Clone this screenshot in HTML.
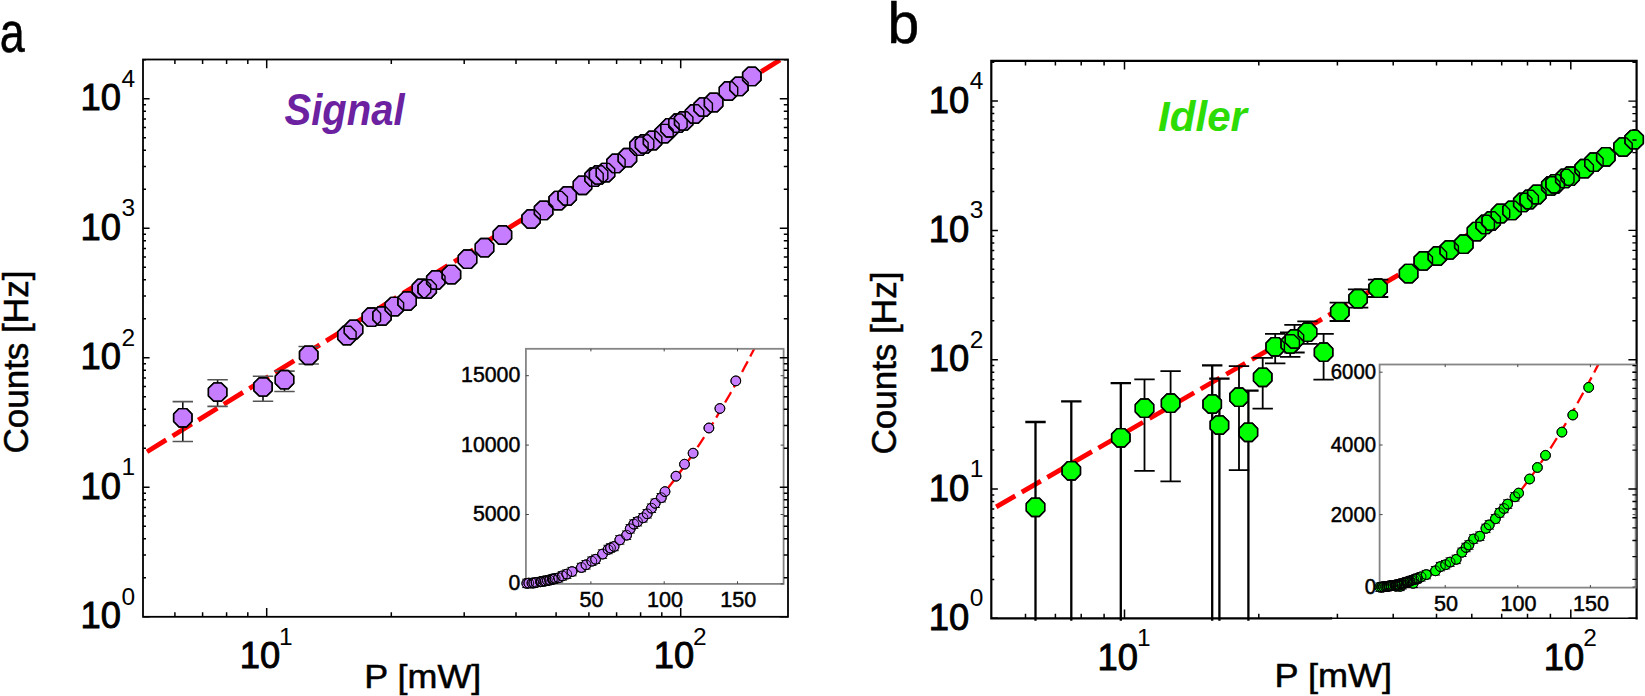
<!DOCTYPE html>
<html><head><meta charset="utf-8"><title>Signal and Idler counts</title>
<style>
html,body{margin:0;padding:0;background:#fff;}
body{width:1645px;height:696px;overflow:hidden;}
svg{display:block;}
svg text{font-family:"Liberation Sans", Arial, sans-serif;fill:#000;stroke:#000;stroke-width:0.5px;}
svg text.ns{stroke:none;}
</style></head><body>
<svg width="1645" height="696" viewBox="0 0 1645 696">
<rect width="1645" height="696" fill="#fff"/>
<defs>
<clipPath id="clipA"><rect x="143.0" y="59.5" width="645.0" height="557.3"/></clipPath>
<clipPath id="clipB"><rect x="991.3" y="60.8" width="645.3" height="557.5"/></clipPath>
</defs>

<text x="-0.3" y="52.3" font-size="56.5" textLength="25" lengthAdjust="spacingAndGlyphs">a</text>
<text x="887.6" y="42.8" font-size="57">b</text>
<g id="plotA">
<line x1="147" y1="451.8" x2="780" y2="60" stroke="#ff0000" stroke-width="4.8" stroke-dasharray="22.6 7.5" clip-path="url(#clipA)"/>
<rect x="143.0" y="59.5" width="645.0" height="557.3" fill="none" stroke="#000" stroke-width="1.8"/>
<path d="M174.9 616.8v-4.6M174.9 59.5v4.6M202.6 616.8v-4.6M202.6 59.5v4.6M226.6 616.8v-4.6M226.6 59.5v4.6M247.8 616.8v-4.6M247.8 59.5v4.6M266.7 616.8v-8.7M266.7 59.5v8.7M391.3 616.8v-4.6M391.3 59.5v4.6M464.2 616.8v-4.6M464.2 59.5v4.6M516.0 616.8v-4.6M516.0 59.5v4.6M556.1 616.8v-4.6M556.1 59.5v4.6M588.9 616.8v-4.6M588.9 59.5v4.6M616.6 616.8v-4.6M616.6 59.5v4.6M640.6 616.8v-4.6M640.6 59.5v4.6M661.8 616.8v-4.6M661.8 59.5v4.6M680.7 616.8v-8.7M680.7 59.5v8.7M143.0 616.8h6.6M143.0 577.8h3.0M143.0 555.0h3.0M143.0 538.8h3.0M143.0 526.3h3.0M143.0 516.0h3.0M143.0 507.4h3.0M143.0 499.8h3.0M143.0 493.2h3.0M143.0 487.3h6.6M143.0 448.3h3.0M143.0 425.5h3.0M143.0 409.3h3.0M143.0 396.8h3.0M143.0 386.5h3.0M143.0 377.9h3.0M143.0 370.3h3.0M143.0 363.7h3.0M143.0 357.8h6.6M143.0 318.8h3.0M143.0 296.0h3.0M143.0 279.8h3.0M143.0 267.3h3.0M143.0 257.0h3.0M143.0 248.4h3.0M143.0 240.8h3.0M143.0 234.2h3.0M143.0 228.3h6.6M143.0 189.3h3.0M143.0 166.5h3.0M143.0 150.3h3.0M143.0 137.8h3.0M143.0 127.5h3.0M143.0 118.9h3.0M143.0 111.3h3.0M143.0 104.7h3.0M143.0 98.8h6.6M143.0 59.8h3.0" stroke="#000" stroke-width="1.5" fill="none"/>
<path d="M182.8 401.6V441.5M217.6 379.7V406.4M263.0 376.3V401.3M284.5 371.1V391.5M308.7 346.5V364.0" stroke="#111" stroke-width="1.6" fill="none"/>
<path d="M172.6 401.6h20.4M172.6 441.5h20.4M207.4 379.7h20.4M207.4 406.4h20.4M252.8 376.3h20.4M252.8 401.3h20.4M274.3 371.1h20.4M274.3 391.5h20.4M298.5 346.5h20.4M298.5 364.0h20.4" stroke="#555" stroke-width="1.6" fill="none"/>
<polygon points="192.0,421.6 186.6,427.0 179.0,427.0 173.6,421.6 173.6,414.0 179.0,408.6 186.6,408.6 192.0,414.0" fill="#c77dff" stroke="#000" stroke-width="1.4" stroke-linejoin="round"/>
<polygon points="226.8,395.9 221.4,401.3 213.8,401.3 208.4,395.9 208.4,388.3 213.8,382.9 221.4,382.9 226.8,388.3" fill="#c77dff" stroke="#000" stroke-width="1.4" stroke-linejoin="round"/>
<polygon points="272.2,390.7 266.8,396.1 259.2,396.1 253.8,390.7 253.8,383.1 259.2,377.7 266.8,377.7 272.2,383.1" fill="#c77dff" stroke="#000" stroke-width="1.4" stroke-linejoin="round"/>
<polygon points="293.7,383.5 288.3,388.9 280.7,388.9 275.3,383.5 275.3,375.9 280.7,370.5 288.3,370.5 293.7,375.9" fill="#c77dff" stroke="#000" stroke-width="1.4" stroke-linejoin="round"/>
<polygon points="317.9,359.1 312.5,364.5 304.9,364.5 299.5,359.1 299.5,351.5 304.9,346.1 312.5,346.1 317.9,351.5" fill="#c77dff" stroke="#000" stroke-width="1.4" stroke-linejoin="round"/>
<polygon points="356.1,339.3 350.7,344.7 343.1,344.7 337.7,339.3 337.7,331.7 343.1,326.3 350.7,326.3 356.1,331.7" fill="#c77dff" stroke="#000" stroke-width="1.4" stroke-linejoin="round"/>
<polygon points="362.7,333.3 357.3,338.7 349.7,338.7 344.3,333.3 344.3,325.7 349.7,320.3 357.3,320.3 362.7,325.7" fill="#c77dff" stroke="#000" stroke-width="1.4" stroke-linejoin="round"/>
<polygon points="380.6,321.0 375.2,326.4 367.6,326.4 362.2,321.0 362.2,313.4 367.6,308.0 375.2,308.0 380.6,313.4" fill="#c77dff" stroke="#000" stroke-width="1.4" stroke-linejoin="round"/>
<polygon points="391.2,319.8 385.8,325.2 378.2,325.2 372.8,319.8 372.8,312.2 378.2,306.8 385.8,306.8 391.2,312.2" fill="#c77dff" stroke="#000" stroke-width="1.4" stroke-linejoin="round"/>
<polygon points="403.6,310.4 398.2,315.8 390.6,315.8 385.2,310.4 385.2,302.8 390.6,297.4 398.2,297.4 403.6,302.8" fill="#c77dff" stroke="#000" stroke-width="1.4" stroke-linejoin="round"/>
<polygon points="416.3,304.9 410.9,310.3 403.3,310.3 397.9,304.9 397.9,297.3 403.3,291.9 410.9,291.9 416.3,297.3" fill="#c77dff" stroke="#000" stroke-width="1.4" stroke-linejoin="round"/>
<polygon points="430.7,292.3 425.3,297.7 417.7,297.7 412.3,292.3 412.3,284.7 417.7,279.3 425.3,279.3 430.7,284.7" fill="#c77dff" stroke="#000" stroke-width="1.4" stroke-linejoin="round"/>
<polygon points="436.4,292.8 431.0,298.2 423.4,298.2 418.0,292.8 418.0,285.2 423.4,279.8 431.0,279.8 436.4,285.2" fill="#c77dff" stroke="#000" stroke-width="1.4" stroke-linejoin="round"/>
<polygon points="445.0,283.8 439.6,289.2 432.0,289.2 426.6,283.8 426.6,276.2 432.0,270.8 439.6,270.8 445.0,276.2" fill="#c77dff" stroke="#000" stroke-width="1.4" stroke-linejoin="round"/>
<polygon points="460.6,278.4 455.2,283.8 447.6,283.8 442.2,278.4 442.2,270.8 447.6,265.4 455.2,265.4 460.6,270.8" fill="#c77dff" stroke="#000" stroke-width="1.4" stroke-linejoin="round"/>
<polygon points="476.7,263.0 471.3,268.4 463.7,268.4 458.3,263.0 458.3,255.4 463.7,250.0 471.3,250.0 476.7,255.4" fill="#c77dff" stroke="#000" stroke-width="1.4" stroke-linejoin="round"/>
<polygon points="493.7,251.5 488.3,256.9 480.7,256.9 475.3,251.5 475.3,243.9 480.7,238.5 488.3,238.5 493.7,243.9" fill="#c77dff" stroke="#000" stroke-width="1.4" stroke-linejoin="round"/>
<polygon points="511.6,238.8 506.2,244.2 498.6,244.2 493.2,238.8 493.2,231.2 498.6,225.8 506.2,225.8 511.6,231.2" fill="#c77dff" stroke="#000" stroke-width="1.4" stroke-linejoin="round"/>
<polygon points="540.3,222.8 534.9,228.2 527.3,228.2 521.9,222.8 521.9,215.2 527.3,209.8 534.9,209.8 540.3,215.2" fill="#c77dff" stroke="#000" stroke-width="1.4" stroke-linejoin="round"/>
<polygon points="552.8,214.2 547.4,219.6 539.8,219.6 534.4,214.2 534.4,206.6 539.8,201.2 547.4,201.2 552.8,206.6" fill="#c77dff" stroke="#000" stroke-width="1.4" stroke-linejoin="round"/>
<polygon points="567.4,204.4 562.0,209.8 554.4,209.8 549.0,204.4 549.0,196.8 554.4,191.4 562.0,191.4 567.4,196.8" fill="#c77dff" stroke="#000" stroke-width="1.4" stroke-linejoin="round"/>
<polygon points="576.4,199.8 571.0,205.2 563.4,205.2 558.0,199.8 558.0,192.2 563.4,186.8 571.0,186.8 576.4,192.2" fill="#c77dff" stroke="#000" stroke-width="1.4" stroke-linejoin="round"/>
<polygon points="591.7,189.1 586.3,194.5 578.7,194.5 573.3,189.1 573.3,181.5 578.7,176.1 586.3,176.1 591.7,181.5" fill="#c77dff" stroke="#000" stroke-width="1.4" stroke-linejoin="round"/>
<polygon points="603.2,181.0 597.8,186.4 590.2,186.4 584.8,181.0 584.8,173.4 590.2,168.0 597.8,168.0 603.2,173.4" fill="#c77dff" stroke="#000" stroke-width="1.4" stroke-linejoin="round"/>
<polygon points="607.8,178.7 602.4,184.1 594.8,184.1 589.4,178.7 589.4,171.1 594.8,165.7 602.4,165.7 607.8,171.1" fill="#c77dff" stroke="#000" stroke-width="1.4" stroke-linejoin="round"/>
<polygon points="614.7,176.4 609.3,181.8 601.7,181.8 596.3,176.4 596.3,168.8 601.7,163.4 609.3,163.4 614.7,168.8" fill="#c77dff" stroke="#000" stroke-width="1.4" stroke-linejoin="round"/>
<polygon points="625.1,167.2 619.7,172.6 612.1,172.6 606.7,167.2 606.7,159.6 612.1,154.2 619.7,154.2 625.1,159.6" fill="#c77dff" stroke="#000" stroke-width="1.4" stroke-linejoin="round"/>
<polygon points="636.6,161.5 631.2,166.9 623.6,166.9 618.2,161.5 618.2,153.9 623.6,148.5 631.2,148.5 636.6,153.9" fill="#c77dff" stroke="#000" stroke-width="1.4" stroke-linejoin="round"/>
<polygon points="648.1,150.0 642.7,155.4 635.1,155.4 629.7,150.0 629.7,142.4 635.1,137.0 642.7,137.0 648.1,142.4" fill="#c77dff" stroke="#000" stroke-width="1.4" stroke-linejoin="round"/>
<polygon points="653.8,147.7 648.4,153.1 640.8,153.1 635.4,147.7 635.4,140.1 640.8,134.7 648.4,134.7 653.8,140.1" fill="#c77dff" stroke="#000" stroke-width="1.4" stroke-linejoin="round"/>
<polygon points="661.8,144.3 656.4,149.7 648.8,149.7 643.4,144.3 643.4,136.7 648.8,131.3 656.4,131.3 661.8,136.7" fill="#c77dff" stroke="#000" stroke-width="1.4" stroke-linejoin="round"/>
<polygon points="673.2,137.4 667.8,142.8 660.2,142.8 654.8,137.4 654.8,129.8 660.2,124.4 667.8,124.4 673.2,129.8" fill="#c77dff" stroke="#000" stroke-width="1.4" stroke-linejoin="round"/>
<polygon points="679.1,131.6 673.7,137.0 666.1,137.0 660.7,131.6 660.7,124.0 666.1,118.6 673.7,118.6 679.1,124.0" fill="#c77dff" stroke="#000" stroke-width="1.4" stroke-linejoin="round"/>
<polygon points="687.1,127.0 681.7,132.4 674.1,132.4 668.7,127.0 668.7,119.4 674.1,114.0 681.7,114.0 687.1,119.4" fill="#c77dff" stroke="#000" stroke-width="1.4" stroke-linejoin="round"/>
<polygon points="692.9,124.7 687.5,130.1 679.9,130.1 674.5,124.7 674.5,117.1 679.9,111.7 687.5,111.7 692.9,117.1" fill="#c77dff" stroke="#000" stroke-width="1.4" stroke-linejoin="round"/>
<polygon points="703.7,117.8 698.3,123.2 690.7,123.2 685.3,117.8 685.3,110.2 690.7,104.8 698.3,104.8 703.7,110.2" fill="#c77dff" stroke="#000" stroke-width="1.4" stroke-linejoin="round"/>
<polygon points="712.4,110.9 707.0,116.3 699.4,116.3 694.0,110.9 694.0,103.3 699.4,97.9 707.0,97.9 712.4,103.3" fill="#c77dff" stroke="#000" stroke-width="1.4" stroke-linejoin="round"/>
<polygon points="722.8,106.3 717.4,111.7 709.8,111.7 704.4,106.3 704.4,98.7 709.8,93.3 717.4,93.3 722.8,98.7" fill="#c77dff" stroke="#000" stroke-width="1.4" stroke-linejoin="round"/>
<polygon points="737.7,94.8 732.3,100.2 724.7,100.2 719.3,94.8 719.3,87.2 724.7,81.8 732.3,81.8 737.7,87.2" fill="#c77dff" stroke="#000" stroke-width="1.4" stroke-linejoin="round"/>
<polygon points="748.1,90.2 742.7,95.6 735.1,95.6 729.7,90.2 729.7,82.6 735.1,77.2 742.7,77.2 748.1,82.6" fill="#c77dff" stroke="#000" stroke-width="1.4" stroke-linejoin="round"/>
<polygon points="761.0,80.2 755.6,85.6 748.0,85.6 742.6,80.2 742.6,72.6 748.0,67.2 755.6,67.2 761.0,72.6" fill="#c77dff" stroke="#000" stroke-width="1.4" stroke-linejoin="round"/>
<polygon points="192.0,421.6 186.6,427.0 179.0,427.0 173.6,421.6 173.6,414.0 179.0,408.6 186.6,408.6 192.0,414.0" fill="none" stroke="#000" stroke-width="1.4" stroke-linejoin="round"/>
<polygon points="226.8,395.9 221.4,401.3 213.8,401.3 208.4,395.9 208.4,388.3 213.8,382.9 221.4,382.9 226.8,388.3" fill="none" stroke="#000" stroke-width="1.4" stroke-linejoin="round"/>
<polygon points="272.2,390.7 266.8,396.1 259.2,396.1 253.8,390.7 253.8,383.1 259.2,377.7 266.8,377.7 272.2,383.1" fill="none" stroke="#000" stroke-width="1.4" stroke-linejoin="round"/>
<polygon points="293.7,383.5 288.3,388.9 280.7,388.9 275.3,383.5 275.3,375.9 280.7,370.5 288.3,370.5 293.7,375.9" fill="none" stroke="#000" stroke-width="1.4" stroke-linejoin="round"/>
<polygon points="317.9,359.1 312.5,364.5 304.9,364.5 299.5,359.1 299.5,351.5 304.9,346.1 312.5,346.1 317.9,351.5" fill="none" stroke="#000" stroke-width="1.4" stroke-linejoin="round"/>
<polygon points="356.1,339.3 350.7,344.7 343.1,344.7 337.7,339.3 337.7,331.7 343.1,326.3 350.7,326.3 356.1,331.7" fill="none" stroke="#000" stroke-width="1.4" stroke-linejoin="round"/>
<polygon points="362.7,333.3 357.3,338.7 349.7,338.7 344.3,333.3 344.3,325.7 349.7,320.3 357.3,320.3 362.7,325.7" fill="none" stroke="#000" stroke-width="1.4" stroke-linejoin="round"/>
<polygon points="380.6,321.0 375.2,326.4 367.6,326.4 362.2,321.0 362.2,313.4 367.6,308.0 375.2,308.0 380.6,313.4" fill="none" stroke="#000" stroke-width="1.4" stroke-linejoin="round"/>
<polygon points="391.2,319.8 385.8,325.2 378.2,325.2 372.8,319.8 372.8,312.2 378.2,306.8 385.8,306.8 391.2,312.2" fill="none" stroke="#000" stroke-width="1.4" stroke-linejoin="round"/>
<polygon points="403.6,310.4 398.2,315.8 390.6,315.8 385.2,310.4 385.2,302.8 390.6,297.4 398.2,297.4 403.6,302.8" fill="none" stroke="#000" stroke-width="1.4" stroke-linejoin="round"/>
<polygon points="416.3,304.9 410.9,310.3 403.3,310.3 397.9,304.9 397.9,297.3 403.3,291.9 410.9,291.9 416.3,297.3" fill="none" stroke="#000" stroke-width="1.4" stroke-linejoin="round"/>
<polygon points="430.7,292.3 425.3,297.7 417.7,297.7 412.3,292.3 412.3,284.7 417.7,279.3 425.3,279.3 430.7,284.7" fill="none" stroke="#000" stroke-width="1.4" stroke-linejoin="round"/>
<polygon points="436.4,292.8 431.0,298.2 423.4,298.2 418.0,292.8 418.0,285.2 423.4,279.8 431.0,279.8 436.4,285.2" fill="none" stroke="#000" stroke-width="1.4" stroke-linejoin="round"/>
<polygon points="445.0,283.8 439.6,289.2 432.0,289.2 426.6,283.8 426.6,276.2 432.0,270.8 439.6,270.8 445.0,276.2" fill="none" stroke="#000" stroke-width="1.4" stroke-linejoin="round"/>
<polygon points="460.6,278.4 455.2,283.8 447.6,283.8 442.2,278.4 442.2,270.8 447.6,265.4 455.2,265.4 460.6,270.8" fill="none" stroke="#000" stroke-width="1.4" stroke-linejoin="round"/>
<polygon points="476.7,263.0 471.3,268.4 463.7,268.4 458.3,263.0 458.3,255.4 463.7,250.0 471.3,250.0 476.7,255.4" fill="none" stroke="#000" stroke-width="1.4" stroke-linejoin="round"/>
<polygon points="493.7,251.5 488.3,256.9 480.7,256.9 475.3,251.5 475.3,243.9 480.7,238.5 488.3,238.5 493.7,243.9" fill="none" stroke="#000" stroke-width="1.4" stroke-linejoin="round"/>
<polygon points="511.6,238.8 506.2,244.2 498.6,244.2 493.2,238.8 493.2,231.2 498.6,225.8 506.2,225.8 511.6,231.2" fill="none" stroke="#000" stroke-width="1.4" stroke-linejoin="round"/>
<polygon points="540.3,222.8 534.9,228.2 527.3,228.2 521.9,222.8 521.9,215.2 527.3,209.8 534.9,209.8 540.3,215.2" fill="none" stroke="#000" stroke-width="1.4" stroke-linejoin="round"/>
<polygon points="552.8,214.2 547.4,219.6 539.8,219.6 534.4,214.2 534.4,206.6 539.8,201.2 547.4,201.2 552.8,206.6" fill="none" stroke="#000" stroke-width="1.4" stroke-linejoin="round"/>
<polygon points="567.4,204.4 562.0,209.8 554.4,209.8 549.0,204.4 549.0,196.8 554.4,191.4 562.0,191.4 567.4,196.8" fill="none" stroke="#000" stroke-width="1.4" stroke-linejoin="round"/>
<polygon points="576.4,199.8 571.0,205.2 563.4,205.2 558.0,199.8 558.0,192.2 563.4,186.8 571.0,186.8 576.4,192.2" fill="none" stroke="#000" stroke-width="1.4" stroke-linejoin="round"/>
<polygon points="591.7,189.1 586.3,194.5 578.7,194.5 573.3,189.1 573.3,181.5 578.7,176.1 586.3,176.1 591.7,181.5" fill="none" stroke="#000" stroke-width="1.4" stroke-linejoin="round"/>
<polygon points="603.2,181.0 597.8,186.4 590.2,186.4 584.8,181.0 584.8,173.4 590.2,168.0 597.8,168.0 603.2,173.4" fill="none" stroke="#000" stroke-width="1.4" stroke-linejoin="round"/>
<polygon points="607.8,178.7 602.4,184.1 594.8,184.1 589.4,178.7 589.4,171.1 594.8,165.7 602.4,165.7 607.8,171.1" fill="none" stroke="#000" stroke-width="1.4" stroke-linejoin="round"/>
<polygon points="614.7,176.4 609.3,181.8 601.7,181.8 596.3,176.4 596.3,168.8 601.7,163.4 609.3,163.4 614.7,168.8" fill="none" stroke="#000" stroke-width="1.4" stroke-linejoin="round"/>
<polygon points="625.1,167.2 619.7,172.6 612.1,172.6 606.7,167.2 606.7,159.6 612.1,154.2 619.7,154.2 625.1,159.6" fill="none" stroke="#000" stroke-width="1.4" stroke-linejoin="round"/>
<polygon points="636.6,161.5 631.2,166.9 623.6,166.9 618.2,161.5 618.2,153.9 623.6,148.5 631.2,148.5 636.6,153.9" fill="none" stroke="#000" stroke-width="1.4" stroke-linejoin="round"/>
<polygon points="648.1,150.0 642.7,155.4 635.1,155.4 629.7,150.0 629.7,142.4 635.1,137.0 642.7,137.0 648.1,142.4" fill="none" stroke="#000" stroke-width="1.4" stroke-linejoin="round"/>
<polygon points="653.8,147.7 648.4,153.1 640.8,153.1 635.4,147.7 635.4,140.1 640.8,134.7 648.4,134.7 653.8,140.1" fill="none" stroke="#000" stroke-width="1.4" stroke-linejoin="round"/>
<polygon points="661.8,144.3 656.4,149.7 648.8,149.7 643.4,144.3 643.4,136.7 648.8,131.3 656.4,131.3 661.8,136.7" fill="none" stroke="#000" stroke-width="1.4" stroke-linejoin="round"/>
<polygon points="673.2,137.4 667.8,142.8 660.2,142.8 654.8,137.4 654.8,129.8 660.2,124.4 667.8,124.4 673.2,129.8" fill="none" stroke="#000" stroke-width="1.4" stroke-linejoin="round"/>
<polygon points="679.1,131.6 673.7,137.0 666.1,137.0 660.7,131.6 660.7,124.0 666.1,118.6 673.7,118.6 679.1,124.0" fill="none" stroke="#000" stroke-width="1.4" stroke-linejoin="round"/>
<polygon points="687.1,127.0 681.7,132.4 674.1,132.4 668.7,127.0 668.7,119.4 674.1,114.0 681.7,114.0 687.1,119.4" fill="none" stroke="#000" stroke-width="1.4" stroke-linejoin="round"/>
<polygon points="692.9,124.7 687.5,130.1 679.9,130.1 674.5,124.7 674.5,117.1 679.9,111.7 687.5,111.7 692.9,117.1" fill="none" stroke="#000" stroke-width="1.4" stroke-linejoin="round"/>
<polygon points="703.7,117.8 698.3,123.2 690.7,123.2 685.3,117.8 685.3,110.2 690.7,104.8 698.3,104.8 703.7,110.2" fill="none" stroke="#000" stroke-width="1.4" stroke-linejoin="round"/>
<polygon points="712.4,110.9 707.0,116.3 699.4,116.3 694.0,110.9 694.0,103.3 699.4,97.9 707.0,97.9 712.4,103.3" fill="none" stroke="#000" stroke-width="1.4" stroke-linejoin="round"/>
<polygon points="722.8,106.3 717.4,111.7 709.8,111.7 704.4,106.3 704.4,98.7 709.8,93.3 717.4,93.3 722.8,98.7" fill="none" stroke="#000" stroke-width="1.4" stroke-linejoin="round"/>
<polygon points="737.7,94.8 732.3,100.2 724.7,100.2 719.3,94.8 719.3,87.2 724.7,81.8 732.3,81.8 737.7,87.2" fill="none" stroke="#000" stroke-width="1.4" stroke-linejoin="round"/>
<polygon points="748.1,90.2 742.7,95.6 735.1,95.6 729.7,90.2 729.7,82.6 735.1,77.2 742.7,77.2 748.1,82.6" fill="none" stroke="#000" stroke-width="1.4" stroke-linejoin="round"/>
<polygon points="761.0,80.2 755.6,85.6 748.0,85.6 742.6,80.2 742.6,72.6 748.0,67.2 755.6,67.2 761.0,72.6" fill="none" stroke="#000" stroke-width="1.4" stroke-linejoin="round"/>
<rect x="525.9" y="348.8" width="257.70000000000005" height="235.09999999999997" fill="#fff" stroke="none"/>
<clipPath id="clipIA"><rect x="525.9" y="348.8" width="257.70000000000005" height="235.09999999999997"/></clipPath>
<clipPath id="clipIAx"><rect x="517.9" y="348.8" width="265.70000000000005" height="243.09999999999997"/></clipPath>
<path d="M524.9 583.7L527.9 583.4L530.8 583.1L533.7 582.7L536.7 582.3L539.6 581.8L542.5 581.2L545.5 580.5L548.4 579.8L551.3 578.9L554.2 578.0L557.2 577.1L560.1 576.0L563.0 574.9L566.0 573.8L568.9 572.5L571.8 571.2L574.8 569.8L577.7 568.3L580.6 566.8L583.6 565.1L586.5 563.5L589.4 561.7L592.4 559.9L595.3 558.0L598.2 556.0L601.2 554.0L604.1 551.8L607.0 549.6L610.0 547.4L612.9 545.1L615.8 542.7L618.8 540.2L621.7 537.6L624.6 535.0L627.6 532.3L630.5 529.6L633.4 526.7L636.3 523.8L639.3 520.9L642.2 517.8L645.1 514.7L648.1 511.5L651.0 508.3L653.9 505.0L656.9 501.6L659.8 498.1L662.7 494.6L665.7 490.9L668.6 487.3L671.5 483.5L674.5 479.7L677.4 475.8L680.3 471.8L683.3 467.8L686.2 463.7L689.1 459.5L692.1 455.3L695.0 451.0L697.9 446.6L700.9 442.1L703.8 437.6L706.7 433.0L709.6 428.3L712.6 423.6L715.5 418.8L718.4 413.9L721.4 409.0L724.3 403.9L727.2 398.9L730.2 393.7L733.1 388.5L736.0 383.2L739.0 377.8L741.9 372.4L744.8 366.8L747.8 361.3L750.7 355.6L753.6 349.9L756.6 344.1L759.5 338.2L762.4 332.3L765.4 326.3L768.3 320.2L771.2 314.1L774.2 307.9L777.1 301.6L780.0 295.3L782.9 288.8L785.9 282.3" fill="none" stroke="#ff0000" stroke-width="2.3" stroke-dasharray="12 5.5" clip-path="url(#clipIA)"/>
<rect x="525.9" y="348.8" width="257.70000000000005" height="235.09999999999997" fill="none" stroke="#858585" stroke-width="1.8"/>
<path d="M590.9 583.9v-2.6M590.9 348.8v2.6M664.2 583.9v-2.6M664.2 348.8v2.6M737.5 583.9v-2.6M737.5 348.8v2.6M525.9 583.9h3M783.6 583.9h-3M525.9 514.5h3M783.6 514.5h-3M525.9 445.1h3M783.6 445.1h-3M525.9 375.7h3M783.6 375.7h-3" stroke="#444" stroke-width="1" fill="none"/>
<text x="591.6" y="607.1" font-size="22" text-anchor="middle" textLength="24.0" lengthAdjust="spacingAndGlyphs">50</text>
<text x="664.9" y="607.1" font-size="22" text-anchor="middle" textLength="36.0" lengthAdjust="spacingAndGlyphs">100</text>
<text x="738.2" y="607.1" font-size="22" text-anchor="middle" textLength="36.0" lengthAdjust="spacingAndGlyphs">150</text>
<text x="520.3" y="590.4" font-size="22" text-anchor="end" textLength="11.8" lengthAdjust="spacingAndGlyphs">0</text>
<text x="520.3" y="521.0" font-size="22" text-anchor="end" textLength="47.4" lengthAdjust="spacingAndGlyphs">5000</text>
<text x="520.3" y="451.6" font-size="22" text-anchor="end" textLength="59.2" lengthAdjust="spacingAndGlyphs">10000</text>
<text x="520.3" y="382.2" font-size="22" text-anchor="end" textLength="59.2" lengthAdjust="spacingAndGlyphs">15000</text>
<path d="M522.2 587.6h9.2M522.2 579.2h9.2M524.2 587.3h9.2M524.2 578.9h9.2M527.4 587.3h9.2M527.4 578.9h9.2M529.2 587.2h9.2M529.2 578.8h9.2M531.5 586.6h9.2M531.5 578.2h9.2M535.9 586.0h9.2M535.9 577.6h9.2M536.8 585.8h9.2M536.8 577.4h9.2M539.2 585.2h9.2M539.2 576.8h9.2M540.8 585.2h9.2M540.8 576.8h9.2M542.8 584.7h9.2M542.8 576.3h9.2M545.0 584.3h9.2M545.0 575.9h9.2M547.7 583.3h9.2M547.7 574.9h9.2M548.8 583.4h9.2M548.8 575.0h9.2M550.5 582.6h9.2M550.5 574.2h9.2M554.0 582.0h9.2M554.0 573.6h9.2M557.8 580.1h9.2M557.8 571.7h9.2M562.2 578.3h9.2M562.2 569.9h9.2M567.4 575.8h9.2M567.4 567.4h9.2M576.8 571.7h9.2M576.8 563.3h9.2M581.4 569.0h9.2M581.4 560.6h9.2M587.2 565.4h9.2M587.2 557.0h9.2M591.0 563.5h9.2M591.0 555.1h9.2M597.9 558.3h9.2M597.9 549.9h9.2M603.5 553.7h9.2M603.5 545.3h9.2M605.9 552.2h9.2M605.9 543.8h9.2M609.5 550.7h9.2M609.5 542.3h9.2M615.2 544.1h9.2M615.2 535.7h9.2M622.0 539.4h9.2M622.0 531.0h9.2M625.6 533.0h9.2M625.6 524.6h9.2M629.2 528.3h9.2M629.2 519.9h9.2M632.9 525.9h9.2M632.9 517.5h9.2M638.4 522.0h9.2M638.4 513.6h9.2M642.6 518.0h9.2M642.6 509.6h9.2M646.9 512.4h9.2M646.9 504.0h9.2M650.6 507.5h9.2M650.6 499.1h9.2M656.7 501.9h9.2M656.7 493.5h9.2" stroke="#000" stroke-width="1" fill="none" clip-path="url(#clipIAx)"/>
<circle cx="526.8" cy="583.4" r="4.9" fill="#c77dff" stroke="#000" stroke-width="0.9"/>
<circle cx="528.8" cy="583.1" r="4.9" fill="#c77dff" stroke="#000" stroke-width="0.9"/>
<circle cx="532.0" cy="583.1" r="4.9" fill="#c77dff" stroke="#000" stroke-width="0.9"/>
<circle cx="533.8" cy="583.0" r="4.9" fill="#c77dff" stroke="#000" stroke-width="0.9"/>
<circle cx="536.1" cy="582.4" r="4.9" fill="#c77dff" stroke="#000" stroke-width="0.9"/>
<circle cx="540.5" cy="581.8" r="4.9" fill="#c77dff" stroke="#000" stroke-width="0.9"/>
<circle cx="541.4" cy="581.6" r="4.9" fill="#c77dff" stroke="#000" stroke-width="0.9"/>
<circle cx="543.8" cy="581.0" r="4.9" fill="#c77dff" stroke="#000" stroke-width="0.9"/>
<circle cx="545.4" cy="581.0" r="4.9" fill="#c77dff" stroke="#000" stroke-width="0.9"/>
<circle cx="547.4" cy="580.5" r="4.9" fill="#c77dff" stroke="#000" stroke-width="0.9"/>
<circle cx="549.6" cy="580.1" r="4.9" fill="#c77dff" stroke="#000" stroke-width="0.9"/>
<circle cx="552.3" cy="579.1" r="4.9" fill="#c77dff" stroke="#000" stroke-width="0.9"/>
<circle cx="553.4" cy="579.2" r="4.9" fill="#c77dff" stroke="#000" stroke-width="0.9"/>
<circle cx="555.1" cy="578.4" r="4.9" fill="#c77dff" stroke="#000" stroke-width="0.9"/>
<circle cx="558.6" cy="577.8" r="4.9" fill="#c77dff" stroke="#000" stroke-width="0.9"/>
<circle cx="562.4" cy="575.9" r="4.9" fill="#c77dff" stroke="#000" stroke-width="0.9"/>
<circle cx="566.8" cy="574.1" r="4.9" fill="#c77dff" stroke="#000" stroke-width="0.9"/>
<circle cx="572.0" cy="571.6" r="4.9" fill="#c77dff" stroke="#000" stroke-width="0.9"/>
<circle cx="581.4" cy="567.5" r="4.9" fill="#c77dff" stroke="#000" stroke-width="0.9"/>
<circle cx="586.0" cy="564.8" r="4.9" fill="#c77dff" stroke="#000" stroke-width="0.9"/>
<circle cx="591.8" cy="561.2" r="4.9" fill="#c77dff" stroke="#000" stroke-width="0.9"/>
<circle cx="595.6" cy="559.3" r="4.9" fill="#c77dff" stroke="#000" stroke-width="0.9"/>
<circle cx="602.5" cy="554.1" r="4.9" fill="#c77dff" stroke="#000" stroke-width="0.9"/>
<circle cx="608.1" cy="549.5" r="4.9" fill="#c77dff" stroke="#000" stroke-width="0.9"/>
<circle cx="610.5" cy="548.0" r="4.9" fill="#c77dff" stroke="#000" stroke-width="0.9"/>
<circle cx="614.1" cy="546.5" r="4.9" fill="#c77dff" stroke="#000" stroke-width="0.9"/>
<circle cx="619.8" cy="539.9" r="4.9" fill="#c77dff" stroke="#000" stroke-width="0.9"/>
<circle cx="626.6" cy="535.2" r="4.9" fill="#c77dff" stroke="#000" stroke-width="0.9"/>
<circle cx="630.2" cy="528.8" r="4.9" fill="#c77dff" stroke="#000" stroke-width="0.9"/>
<circle cx="633.8" cy="524.1" r="4.9" fill="#c77dff" stroke="#000" stroke-width="0.9"/>
<circle cx="637.5" cy="521.7" r="4.9" fill="#c77dff" stroke="#000" stroke-width="0.9"/>
<circle cx="643.0" cy="517.8" r="4.9" fill="#c77dff" stroke="#000" stroke-width="0.9"/>
<circle cx="647.2" cy="513.8" r="4.9" fill="#c77dff" stroke="#000" stroke-width="0.9"/>
<circle cx="651.5" cy="508.2" r="4.9" fill="#c77dff" stroke="#000" stroke-width="0.9"/>
<circle cx="655.2" cy="503.3" r="4.9" fill="#c77dff" stroke="#000" stroke-width="0.9"/>
<circle cx="661.3" cy="497.7" r="4.9" fill="#c77dff" stroke="#000" stroke-width="0.9"/>
<circle cx="665.0" cy="491.6" r="4.9" fill="#c77dff" stroke="#000" stroke-width="0.9"/>
<circle cx="676.0" cy="476.2" r="4.9" fill="#c77dff" stroke="#000" stroke-width="0.9"/>
<circle cx="684.5" cy="464.2" r="4.9" fill="#c77dff" stroke="#000" stroke-width="0.9"/>
<circle cx="693.1" cy="453.2" r="4.9" fill="#c77dff" stroke="#000" stroke-width="0.9"/>
<circle cx="708.9" cy="428.0" r="4.9" fill="#c77dff" stroke="#000" stroke-width="0.9"/>
<circle cx="719.9" cy="408.5" r="4.9" fill="#c77dff" stroke="#000" stroke-width="0.9"/>
<circle cx="735.8" cy="380.9" r="4.9" fill="#c77dff" stroke="#000" stroke-width="0.9"/>
<circle cx="526.8" cy="583.4" r="4.9" fill="none" stroke="#000" stroke-width="0.9"/>
<circle cx="528.8" cy="583.1" r="4.9" fill="none" stroke="#000" stroke-width="0.9"/>
<circle cx="532.0" cy="583.1" r="4.9" fill="none" stroke="#000" stroke-width="0.9"/>
<circle cx="533.8" cy="583.0" r="4.9" fill="none" stroke="#000" stroke-width="0.9"/>
<circle cx="536.1" cy="582.4" r="4.9" fill="none" stroke="#000" stroke-width="0.9"/>
<circle cx="540.5" cy="581.8" r="4.9" fill="none" stroke="#000" stroke-width="0.9"/>
<circle cx="541.4" cy="581.6" r="4.9" fill="none" stroke="#000" stroke-width="0.9"/>
<circle cx="543.8" cy="581.0" r="4.9" fill="none" stroke="#000" stroke-width="0.9"/>
<circle cx="545.4" cy="581.0" r="4.9" fill="none" stroke="#000" stroke-width="0.9"/>
<circle cx="547.4" cy="580.5" r="4.9" fill="none" stroke="#000" stroke-width="0.9"/>
<circle cx="549.6" cy="580.1" r="4.9" fill="none" stroke="#000" stroke-width="0.9"/>
<circle cx="552.3" cy="579.1" r="4.9" fill="none" stroke="#000" stroke-width="0.9"/>
<circle cx="553.4" cy="579.2" r="4.9" fill="none" stroke="#000" stroke-width="0.9"/>
<circle cx="555.1" cy="578.4" r="4.9" fill="none" stroke="#000" stroke-width="0.9"/>
<circle cx="558.6" cy="577.8" r="4.9" fill="none" stroke="#000" stroke-width="0.9"/>
<circle cx="562.4" cy="575.9" r="4.9" fill="none" stroke="#000" stroke-width="0.9"/>
<circle cx="566.8" cy="574.1" r="4.9" fill="none" stroke="#000" stroke-width="0.9"/>
<circle cx="572.0" cy="571.6" r="4.9" fill="none" stroke="#000" stroke-width="0.9"/>
<circle cx="581.4" cy="567.5" r="4.9" fill="none" stroke="#000" stroke-width="0.9"/>
<circle cx="586.0" cy="564.8" r="4.9" fill="none" stroke="#000" stroke-width="0.9"/>
<circle cx="591.8" cy="561.2" r="4.9" fill="none" stroke="#000" stroke-width="0.9"/>
<circle cx="595.6" cy="559.3" r="4.9" fill="none" stroke="#000" stroke-width="0.9"/>
<circle cx="602.5" cy="554.1" r="4.9" fill="none" stroke="#000" stroke-width="0.9"/>
<circle cx="608.1" cy="549.5" r="4.9" fill="none" stroke="#000" stroke-width="0.9"/>
<circle cx="610.5" cy="548.0" r="4.9" fill="none" stroke="#000" stroke-width="0.9"/>
<circle cx="614.1" cy="546.5" r="4.9" fill="none" stroke="#000" stroke-width="0.9"/>
<circle cx="619.8" cy="539.9" r="4.9" fill="none" stroke="#000" stroke-width="0.9"/>
<circle cx="626.6" cy="535.2" r="4.9" fill="none" stroke="#000" stroke-width="0.9"/>
<circle cx="630.2" cy="528.8" r="4.9" fill="none" stroke="#000" stroke-width="0.9"/>
<circle cx="633.8" cy="524.1" r="4.9" fill="none" stroke="#000" stroke-width="0.9"/>
<circle cx="637.5" cy="521.7" r="4.9" fill="none" stroke="#000" stroke-width="0.9"/>
<circle cx="643.0" cy="517.8" r="4.9" fill="none" stroke="#000" stroke-width="0.9"/>
<circle cx="647.2" cy="513.8" r="4.9" fill="none" stroke="#000" stroke-width="0.9"/>
<circle cx="651.5" cy="508.2" r="4.9" fill="none" stroke="#000" stroke-width="0.9"/>
<circle cx="655.2" cy="503.3" r="4.9" fill="none" stroke="#000" stroke-width="0.9"/>
<circle cx="661.3" cy="497.7" r="4.9" fill="none" stroke="#000" stroke-width="0.9"/>
<circle cx="665.0" cy="491.6" r="4.9" fill="none" stroke="#000" stroke-width="0.9"/>
<circle cx="676.0" cy="476.2" r="4.9" fill="none" stroke="#000" stroke-width="0.9"/>
<circle cx="684.5" cy="464.2" r="4.9" fill="none" stroke="#000" stroke-width="0.9"/>
<circle cx="693.1" cy="453.2" r="4.9" fill="none" stroke="#000" stroke-width="0.9"/>
<circle cx="708.9" cy="428.0" r="4.9" fill="none" stroke="#000" stroke-width="0.9"/>
<circle cx="719.9" cy="408.5" r="4.9" fill="none" stroke="#000" stroke-width="0.9"/>
<circle cx="735.8" cy="380.9" r="4.9" fill="none" stroke="#000" stroke-width="0.9"/>
<path d="M788.0 616.8h-8.2M788.0 577.8h-4.2M788.0 555.0h-4.2M788.0 538.8h-4.2M788.0 526.3h-4.2M788.0 516.0h-4.2M788.0 507.4h-4.2M788.0 499.8h-4.2M788.0 493.2h-4.2M788.0 487.3h-8.2M788.0 448.3h-4.2M788.0 425.5h-4.2M788.0 409.3h-4.2M788.0 396.8h-4.2M788.0 386.5h-4.2M788.0 377.9h-4.2M788.0 370.3h-4.2M788.0 363.7h-4.2M788.0 357.8h-8.2M788.0 318.8h-4.2M788.0 296.0h-4.2M788.0 279.8h-4.2M788.0 267.3h-4.2M788.0 257.0h-4.2M788.0 248.4h-4.2M788.0 240.8h-4.2M788.0 234.2h-4.2M788.0 228.3h-8.2M788.0 189.3h-4.2M788.0 166.5h-4.2M788.0 150.3h-4.2M788.0 137.8h-4.2M788.0 127.5h-4.2M788.0 118.9h-4.2M788.0 111.3h-4.2M788.0 104.7h-4.2M788.0 98.8h-8.2M788.0 59.8h-4.2" stroke="#000" stroke-width="1.4" fill="none"/>
<text x="121.0" y="628.4" font-size="36.4" text-anchor="end" style="stroke-width:0.9px">10</text>
<text x="121.5" y="604.8" font-size="24.5" class="ns">0</text>
<text x="121.0" y="498.9" font-size="36.4" text-anchor="end" style="stroke-width:0.9px">10</text>
<text x="121.5" y="475.3" font-size="24.5" class="ns">1</text>
<text x="121.0" y="369.4" font-size="36.4" text-anchor="end" style="stroke-width:0.9px">10</text>
<text x="121.5" y="345.8" font-size="24.5" class="ns">2</text>
<text x="121.0" y="239.9" font-size="36.4" text-anchor="end" style="stroke-width:0.9px">10</text>
<text x="121.5" y="216.3" font-size="24.5" class="ns">3</text>
<text x="121.0" y="110.4" font-size="36.4" text-anchor="end" style="stroke-width:0.9px">10</text>
<text x="121.5" y="86.8" font-size="24.5" class="ns">4</text>
<text x="280.2" y="668.0" font-size="36.4" text-anchor="end" style="stroke-width:0.9px">10</text>
<text x="279.1" y="644.8" font-size="24.5" class="ns">1</text>
<text x="694.2" y="668.0" font-size="36.4" text-anchor="end" style="stroke-width:0.9px">10</text>
<text x="693.1" y="644.8" font-size="24.5" class="ns">2</text>
<text x="364.3" y="687.5" font-size="32.5" textLength="117" lengthAdjust="spacingAndGlyphs">P [mW]</text>
<text transform="translate(27.6 453.6) rotate(-90)" font-size="34.5" textLength="183" lengthAdjust="spacingAndGlyphs">Counts [Hz]</text>
<text x="284.5" y="125" font-size="43.5" font-weight="bold" font-style="italic" class="ns" style="fill:#6b21a0" textLength="120" lengthAdjust="spacingAndGlyphs">Signal</text>
</g>
<g id="plotB">
<line x1="996.2" y1="506.9" x2="1640" y2="135.68491999999998" stroke="#ff0000" stroke-width="4.8" stroke-dasharray="22 7.5" clip-path="url(#clipB)"/>
<path d="M1331 618.3H991.3V60.8H1636.6V618.3" fill="none" stroke="#000" stroke-width="2.2" stroke-linecap="square"/>
<path d="M1331 618.3H1636.6" fill="none" stroke="#000" stroke-width="1.4" stroke-linecap="square"/>
<path d="M1025.5 618.3v-4.6M1025.5 60.8v4.6M1055.4 618.3v-4.6M1055.4 60.8v4.6M1081.2 618.3v-4.6M1081.2 60.8v4.6M1104.1 618.3v-4.6M1104.1 60.8v4.6M1124.5 618.3v-8.7M1124.5 60.8v8.7M1258.8 618.3v-4.6M1258.8 60.8v4.6M1337.4 618.3v-4.6M1337.4 60.8v4.6M1393.2 618.3v-4.6M1393.2 60.8v4.6M1436.5 618.3v-4.6M1436.5 60.8v4.6M1471.8 618.3v-4.6M1471.8 60.8v4.6M1501.7 618.3v-4.6M1501.7 60.8v4.6M1527.5 618.3v-4.6M1527.5 60.8v4.6M1550.4 618.3v-4.6M1550.4 60.8v4.6M1570.8 618.3v-8.7M1570.8 60.8v8.7M991.3 618.3h6.6M991.3 579.4h3.0M991.3 556.6h3.0M991.3 540.5h3.0M991.3 527.9h3.0M991.3 517.7h3.0M991.3 509.0h3.0M991.3 501.5h3.0M991.3 494.9h3.0M991.3 489.0h6.6M991.3 450.1h3.0M991.3 427.3h3.0M991.3 411.2h3.0M991.3 398.6h3.0M991.3 388.4h3.0M991.3 379.7h3.0M991.3 372.2h3.0M991.3 365.6h3.0M991.3 359.7h6.6M991.3 320.8h3.0M991.3 298.0h3.0M991.3 281.9h3.0M991.3 269.3h3.0M991.3 259.1h3.0M991.3 250.4h3.0M991.3 242.9h3.0M991.3 236.3h3.0M991.3 230.4h6.6M991.3 191.5h3.0M991.3 168.7h3.0M991.3 152.6h3.0M991.3 140.0h3.0M991.3 129.8h3.0M991.3 121.1h3.0M991.3 113.6h3.0M991.3 107.0h3.0M991.3 101.1h6.6M991.3 62.2h3.0" stroke="#000" stroke-width="1.5" fill="none"/>
<path d="M1144.5 379.4V470.8M1170.6 371.1V481.4M1239.0 366.2V470.2M1262.7 357.8V408.7M1275.2 333.8V363.3M1290.2 332.4V356.8M1294.5 324.9V352.5M1307.5 321.4V343.9M1323.6 333.8V379.6M1339.8 302.6V321.0M1358.1 289.4V307.7M1378.1 279.7V297.0" stroke="#000" stroke-width="1.8" fill="none"/>
<path d="M1134.3 379.4h20.4M1134.3 470.8h20.4M1160.4 371.1h20.4M1160.4 481.4h20.4M1228.8 366.2h20.4M1228.8 470.2h20.4M1252.5 357.8h20.4M1252.5 408.7h20.4M1265.0 333.8h20.4M1265.0 363.3h20.4M1280.0 332.4h20.4M1280.0 356.8h20.4M1284.3 324.9h20.4M1284.3 352.5h20.4M1297.3 321.4h20.4M1297.3 343.9h20.4M1313.4 333.8h20.4M1313.4 379.6h20.4M1329.6 302.6h20.4M1329.6 321.0h20.4M1347.9 289.4h20.4M1347.9 307.7h20.4M1367.9 279.7h20.4M1367.9 297.0h20.4" stroke="#000" stroke-width="1.8" fill="none"/>
<path d="M1035.5 422.0V620.8M1025.3 422.0h20.4M1071.3 401.3V620.8M1061.1 401.3h20.4M1120.8 383.2V620.8M1110.6 383.2h20.4M1212.2 365.3V620.8M1202.0 365.3h20.4M1219.4 378.6V620.8M1209.2 378.6h20.4M1248.4 390.6V620.8M1238.2 390.6h20.4" stroke="#000" stroke-width="2.3" fill="none"/>
<polygon points="1044.7,511.1 1039.3,516.5 1031.7,516.5 1026.3,511.1 1026.3,503.5 1031.7,498.1 1039.3,498.1 1044.7,503.5" fill="#00ff00" stroke="#000" stroke-width="1.4" stroke-linejoin="round"/>
<polygon points="1080.5,474.6 1075.1,480.0 1067.5,480.0 1062.1,474.6 1062.1,467.0 1067.5,461.6 1075.1,461.6 1080.5,467.0" fill="#00ff00" stroke="#000" stroke-width="1.4" stroke-linejoin="round"/>
<polygon points="1130.0,441.6 1124.6,447.0 1117.0,447.0 1111.6,441.6 1111.6,434.0 1117.0,428.6 1124.6,428.6 1130.0,434.0" fill="#00ff00" stroke="#000" stroke-width="1.4" stroke-linejoin="round"/>
<polygon points="1153.7,412.0 1148.3,417.4 1140.7,417.4 1135.3,412.0 1135.3,404.4 1140.7,399.0 1148.3,399.0 1153.7,404.4" fill="#00ff00" stroke="#000" stroke-width="1.4" stroke-linejoin="round"/>
<polygon points="1179.8,407.0 1174.4,412.4 1166.8,412.4 1161.4,407.0 1161.4,399.4 1166.8,394.0 1174.4,394.0 1179.8,399.4" fill="#00ff00" stroke="#000" stroke-width="1.4" stroke-linejoin="round"/>
<polygon points="1221.4,407.9 1216.0,413.3 1208.4,413.3 1203.0,407.9 1203.0,400.3 1208.4,394.9 1216.0,394.9 1221.4,400.3" fill="#00ff00" stroke="#000" stroke-width="1.4" stroke-linejoin="round"/>
<polygon points="1228.6,428.9 1223.2,434.3 1215.6,434.3 1210.2,428.9 1210.2,421.3 1215.6,415.9 1223.2,415.9 1228.6,421.3" fill="#00ff00" stroke="#000" stroke-width="1.4" stroke-linejoin="round"/>
<polygon points="1248.2,401.0 1242.8,406.4 1235.2,406.4 1229.8,401.0 1229.8,393.4 1235.2,388.0 1242.8,388.0 1248.2,393.4" fill="#00ff00" stroke="#000" stroke-width="1.4" stroke-linejoin="round"/>
<polygon points="1257.6,436.1 1252.2,441.5 1244.6,441.5 1239.2,436.1 1239.2,428.5 1244.6,423.1 1252.2,423.1 1257.6,428.5" fill="#00ff00" stroke="#000" stroke-width="1.4" stroke-linejoin="round"/>
<polygon points="1271.9,381.1 1266.5,386.5 1258.9,386.5 1253.5,381.1 1253.5,373.5 1258.9,368.1 1266.5,368.1 1271.9,373.5" fill="#00ff00" stroke="#000" stroke-width="1.4" stroke-linejoin="round"/>
<polygon points="1284.4,350.6 1279.0,356.0 1271.4,356.0 1266.0,350.6 1266.0,343.0 1271.4,337.6 1279.0,337.6 1284.4,343.0" fill="#00ff00" stroke="#000" stroke-width="1.4" stroke-linejoin="round"/>
<polygon points="1299.4,347.7 1294.0,353.1 1286.4,353.1 1281.0,347.7 1281.0,340.1 1286.4,334.7 1294.0,334.7 1299.4,340.1" fill="#00ff00" stroke="#000" stroke-width="1.4" stroke-linejoin="round"/>
<polygon points="1303.7,342.7 1298.3,348.1 1290.7,348.1 1285.3,342.7 1285.3,335.1 1290.7,329.7 1298.3,329.7 1303.7,335.1" fill="#00ff00" stroke="#000" stroke-width="1.4" stroke-linejoin="round"/>
<polygon points="1316.7,336.0 1311.3,341.4 1303.7,341.4 1298.3,336.0 1298.3,328.4 1303.7,323.0 1311.3,323.0 1316.7,328.4" fill="#00ff00" stroke="#000" stroke-width="1.4" stroke-linejoin="round"/>
<polygon points="1332.8,356.0 1327.4,361.4 1319.8,361.4 1314.4,356.0 1314.4,348.4 1319.8,343.0 1327.4,343.0 1332.8,348.4" fill="#00ff00" stroke="#000" stroke-width="1.4" stroke-linejoin="round"/>
<polygon points="1349.0,315.6 1343.6,321.0 1336.0,321.0 1330.6,315.6 1330.6,308.0 1336.0,302.6 1343.6,302.6 1349.0,308.0" fill="#00ff00" stroke="#000" stroke-width="1.4" stroke-linejoin="round"/>
<polygon points="1367.3,302.5 1361.9,307.9 1354.3,307.9 1348.9,302.5 1348.9,294.9 1354.3,289.5 1361.9,289.5 1367.3,294.9" fill="#00ff00" stroke="#000" stroke-width="1.4" stroke-linejoin="round"/>
<polygon points="1387.3,292.0 1381.9,297.4 1374.3,297.4 1368.9,292.0 1368.9,284.4 1374.3,279.0 1381.9,279.0 1387.3,284.4" fill="#00ff00" stroke="#000" stroke-width="1.4" stroke-linejoin="round"/>
<polygon points="1417.8,277.4 1412.4,282.8 1404.8,282.8 1399.4,277.4 1399.4,269.8 1404.8,264.4 1412.4,264.4 1417.8,269.8" fill="#00ff00" stroke="#000" stroke-width="1.4" stroke-linejoin="round"/>
<polygon points="1432.5,264.7 1427.1,270.1 1419.5,270.1 1414.1,264.7 1414.1,257.1 1419.5,251.7 1427.1,251.7 1432.5,257.1" fill="#00ff00" stroke="#000" stroke-width="1.4" stroke-linejoin="round"/>
<polygon points="1446.6,259.8 1441.2,265.2 1433.6,265.2 1428.2,259.8 1428.2,252.2 1433.6,246.8 1441.2,246.8 1446.6,252.2" fill="#00ff00" stroke="#000" stroke-width="1.4" stroke-linejoin="round"/>
<polygon points="1458.4,253.7 1453.0,259.1 1445.4,259.1 1440.0,253.7 1440.0,246.1 1445.4,240.7 1453.0,240.7 1458.4,246.1" fill="#00ff00" stroke="#000" stroke-width="1.4" stroke-linejoin="round"/>
<polygon points="1473.0,248.0 1467.6,253.4 1460.0,253.4 1454.6,248.0 1454.6,240.4 1460.0,235.0 1467.6,235.0 1473.0,240.4" fill="#00ff00" stroke="#000" stroke-width="1.4" stroke-linejoin="round"/>
<polygon points="1485.7,235.4 1480.3,240.8 1472.7,240.8 1467.3,235.4 1467.3,227.8 1472.7,222.4 1480.3,222.4 1485.7,227.8" fill="#00ff00" stroke="#000" stroke-width="1.4" stroke-linejoin="round"/>
<polygon points="1494.4,228.2 1489.0,233.6 1481.4,233.6 1476.0,228.2 1476.0,220.6 1481.4,215.2 1489.0,215.2 1494.4,220.6" fill="#00ff00" stroke="#000" stroke-width="1.4" stroke-linejoin="round"/>
<polygon points="1500.4,224.8 1495.0,230.2 1487.4,230.2 1482.0,224.8 1482.0,217.2 1487.4,211.8 1495.0,211.8 1500.4,217.2" fill="#00ff00" stroke="#000" stroke-width="1.4" stroke-linejoin="round"/>
<polygon points="1509.7,217.3 1504.3,222.7 1496.7,222.7 1491.3,217.3 1491.3,209.7 1496.7,204.3 1504.3,204.3 1509.7,209.7" fill="#00ff00" stroke="#000" stroke-width="1.4" stroke-linejoin="round"/>
<polygon points="1521.2,214.2 1515.8,219.6 1508.2,219.6 1502.8,214.2 1502.8,206.6 1508.2,201.2 1515.8,201.2 1521.2,206.6" fill="#00ff00" stroke="#000" stroke-width="1.4" stroke-linejoin="round"/>
<polygon points="1532.0,206.2 1526.6,211.6 1519.0,211.6 1513.6,206.2 1513.6,198.6 1519.0,193.2 1526.6,193.2 1532.0,198.6" fill="#00ff00" stroke="#000" stroke-width="1.4" stroke-linejoin="round"/>
<polygon points="1538.4,203.3 1533.0,208.7 1525.4,208.7 1520.0,203.3 1520.0,195.7 1525.4,190.3 1533.0,190.3 1538.4,195.7" fill="#00ff00" stroke="#000" stroke-width="1.4" stroke-linejoin="round"/>
<polygon points="1546.0,198.3 1540.6,203.7 1533.0,203.7 1527.6,198.3 1527.6,190.7 1533.0,185.3 1540.6,185.3 1546.0,190.7" fill="#00ff00" stroke="#000" stroke-width="1.4" stroke-linejoin="round"/>
<polygon points="1560.0,189.7 1554.6,195.1 1547.0,195.1 1541.6,189.7 1541.6,182.1 1547.0,176.7 1554.6,176.7 1560.0,182.1" fill="#00ff00" stroke="#000" stroke-width="1.4" stroke-linejoin="round"/>
<polygon points="1564.3,187.6 1558.9,193.0 1551.3,193.0 1545.9,187.6 1545.9,180.0 1551.3,174.6 1558.9,174.6 1564.3,180.0" fill="#00ff00" stroke="#000" stroke-width="1.4" stroke-linejoin="round"/>
<polygon points="1574.0,182.2 1568.6,187.6 1561.0,187.6 1555.6,182.2 1555.6,174.6 1561.0,169.2 1568.6,169.2 1574.0,174.6" fill="#00ff00" stroke="#000" stroke-width="1.4" stroke-linejoin="round"/>
<polygon points="1579.4,180.0 1574.0,185.4 1566.4,185.4 1561.0,180.0 1561.0,172.4 1566.4,167.0 1574.0,167.0 1579.4,172.4" fill="#00ff00" stroke="#000" stroke-width="1.4" stroke-linejoin="round"/>
<polygon points="1593.4,172.5 1588.0,177.9 1580.4,177.9 1575.0,172.5 1575.0,164.9 1580.4,159.5 1588.0,159.5 1593.4,164.9" fill="#00ff00" stroke="#000" stroke-width="1.4" stroke-linejoin="round"/>
<polygon points="1603.1,166.0 1597.7,171.4 1590.1,171.4 1584.7,166.0 1584.7,158.4 1590.1,153.0 1597.7,153.0 1603.1,158.4" fill="#00ff00" stroke="#000" stroke-width="1.4" stroke-linejoin="round"/>
<polygon points="1615.0,160.6 1609.6,166.0 1602.0,166.0 1596.6,160.6 1596.6,153.0 1602.0,147.6 1609.6,147.6 1615.0,153.0" fill="#00ff00" stroke="#000" stroke-width="1.4" stroke-linejoin="round"/>
<polygon points="1632.2,150.9 1626.8,156.3 1619.2,156.3 1613.8,150.9 1613.8,143.3 1619.2,137.9 1626.8,137.9 1632.2,143.3" fill="#00ff00" stroke="#000" stroke-width="1.4" stroke-linejoin="round"/>
<polygon points="1643.4,143.4 1638.0,148.8 1630.4,148.8 1625.0,143.4 1625.0,135.8 1630.4,130.4 1638.0,130.4 1643.4,135.8" fill="#00ff00" stroke="#000" stroke-width="1.4" stroke-linejoin="round"/>
<polygon points="1044.7,511.1 1039.3,516.5 1031.7,516.5 1026.3,511.1 1026.3,503.5 1031.7,498.1 1039.3,498.1 1044.7,503.5" fill="none" stroke="#000" stroke-width="1.4" stroke-linejoin="round"/>
<polygon points="1080.5,474.6 1075.1,480.0 1067.5,480.0 1062.1,474.6 1062.1,467.0 1067.5,461.6 1075.1,461.6 1080.5,467.0" fill="none" stroke="#000" stroke-width="1.4" stroke-linejoin="round"/>
<polygon points="1130.0,441.6 1124.6,447.0 1117.0,447.0 1111.6,441.6 1111.6,434.0 1117.0,428.6 1124.6,428.6 1130.0,434.0" fill="none" stroke="#000" stroke-width="1.4" stroke-linejoin="round"/>
<polygon points="1153.7,412.0 1148.3,417.4 1140.7,417.4 1135.3,412.0 1135.3,404.4 1140.7,399.0 1148.3,399.0 1153.7,404.4" fill="none" stroke="#000" stroke-width="1.4" stroke-linejoin="round"/>
<polygon points="1179.8,407.0 1174.4,412.4 1166.8,412.4 1161.4,407.0 1161.4,399.4 1166.8,394.0 1174.4,394.0 1179.8,399.4" fill="none" stroke="#000" stroke-width="1.4" stroke-linejoin="round"/>
<polygon points="1221.4,407.9 1216.0,413.3 1208.4,413.3 1203.0,407.9 1203.0,400.3 1208.4,394.9 1216.0,394.9 1221.4,400.3" fill="none" stroke="#000" stroke-width="1.4" stroke-linejoin="round"/>
<polygon points="1228.6,428.9 1223.2,434.3 1215.6,434.3 1210.2,428.9 1210.2,421.3 1215.6,415.9 1223.2,415.9 1228.6,421.3" fill="none" stroke="#000" stroke-width="1.4" stroke-linejoin="round"/>
<polygon points="1248.2,401.0 1242.8,406.4 1235.2,406.4 1229.8,401.0 1229.8,393.4 1235.2,388.0 1242.8,388.0 1248.2,393.4" fill="none" stroke="#000" stroke-width="1.4" stroke-linejoin="round"/>
<polygon points="1257.6,436.1 1252.2,441.5 1244.6,441.5 1239.2,436.1 1239.2,428.5 1244.6,423.1 1252.2,423.1 1257.6,428.5" fill="none" stroke="#000" stroke-width="1.4" stroke-linejoin="round"/>
<polygon points="1271.9,381.1 1266.5,386.5 1258.9,386.5 1253.5,381.1 1253.5,373.5 1258.9,368.1 1266.5,368.1 1271.9,373.5" fill="none" stroke="#000" stroke-width="1.4" stroke-linejoin="round"/>
<polygon points="1284.4,350.6 1279.0,356.0 1271.4,356.0 1266.0,350.6 1266.0,343.0 1271.4,337.6 1279.0,337.6 1284.4,343.0" fill="none" stroke="#000" stroke-width="1.4" stroke-linejoin="round"/>
<polygon points="1299.4,347.7 1294.0,353.1 1286.4,353.1 1281.0,347.7 1281.0,340.1 1286.4,334.7 1294.0,334.7 1299.4,340.1" fill="none" stroke="#000" stroke-width="1.4" stroke-linejoin="round"/>
<polygon points="1303.7,342.7 1298.3,348.1 1290.7,348.1 1285.3,342.7 1285.3,335.1 1290.7,329.7 1298.3,329.7 1303.7,335.1" fill="none" stroke="#000" stroke-width="1.4" stroke-linejoin="round"/>
<polygon points="1316.7,336.0 1311.3,341.4 1303.7,341.4 1298.3,336.0 1298.3,328.4 1303.7,323.0 1311.3,323.0 1316.7,328.4" fill="none" stroke="#000" stroke-width="1.4" stroke-linejoin="round"/>
<polygon points="1332.8,356.0 1327.4,361.4 1319.8,361.4 1314.4,356.0 1314.4,348.4 1319.8,343.0 1327.4,343.0 1332.8,348.4" fill="none" stroke="#000" stroke-width="1.4" stroke-linejoin="round"/>
<polygon points="1349.0,315.6 1343.6,321.0 1336.0,321.0 1330.6,315.6 1330.6,308.0 1336.0,302.6 1343.6,302.6 1349.0,308.0" fill="none" stroke="#000" stroke-width="1.4" stroke-linejoin="round"/>
<polygon points="1367.3,302.5 1361.9,307.9 1354.3,307.9 1348.9,302.5 1348.9,294.9 1354.3,289.5 1361.9,289.5 1367.3,294.9" fill="none" stroke="#000" stroke-width="1.4" stroke-linejoin="round"/>
<polygon points="1387.3,292.0 1381.9,297.4 1374.3,297.4 1368.9,292.0 1368.9,284.4 1374.3,279.0 1381.9,279.0 1387.3,284.4" fill="none" stroke="#000" stroke-width="1.4" stroke-linejoin="round"/>
<polygon points="1417.8,277.4 1412.4,282.8 1404.8,282.8 1399.4,277.4 1399.4,269.8 1404.8,264.4 1412.4,264.4 1417.8,269.8" fill="none" stroke="#000" stroke-width="1.4" stroke-linejoin="round"/>
<polygon points="1432.5,264.7 1427.1,270.1 1419.5,270.1 1414.1,264.7 1414.1,257.1 1419.5,251.7 1427.1,251.7 1432.5,257.1" fill="none" stroke="#000" stroke-width="1.4" stroke-linejoin="round"/>
<polygon points="1446.6,259.8 1441.2,265.2 1433.6,265.2 1428.2,259.8 1428.2,252.2 1433.6,246.8 1441.2,246.8 1446.6,252.2" fill="none" stroke="#000" stroke-width="1.4" stroke-linejoin="round"/>
<polygon points="1458.4,253.7 1453.0,259.1 1445.4,259.1 1440.0,253.7 1440.0,246.1 1445.4,240.7 1453.0,240.7 1458.4,246.1" fill="none" stroke="#000" stroke-width="1.4" stroke-linejoin="round"/>
<polygon points="1473.0,248.0 1467.6,253.4 1460.0,253.4 1454.6,248.0 1454.6,240.4 1460.0,235.0 1467.6,235.0 1473.0,240.4" fill="none" stroke="#000" stroke-width="1.4" stroke-linejoin="round"/>
<polygon points="1485.7,235.4 1480.3,240.8 1472.7,240.8 1467.3,235.4 1467.3,227.8 1472.7,222.4 1480.3,222.4 1485.7,227.8" fill="none" stroke="#000" stroke-width="1.4" stroke-linejoin="round"/>
<polygon points="1494.4,228.2 1489.0,233.6 1481.4,233.6 1476.0,228.2 1476.0,220.6 1481.4,215.2 1489.0,215.2 1494.4,220.6" fill="none" stroke="#000" stroke-width="1.4" stroke-linejoin="round"/>
<polygon points="1500.4,224.8 1495.0,230.2 1487.4,230.2 1482.0,224.8 1482.0,217.2 1487.4,211.8 1495.0,211.8 1500.4,217.2" fill="none" stroke="#000" stroke-width="1.4" stroke-linejoin="round"/>
<polygon points="1509.7,217.3 1504.3,222.7 1496.7,222.7 1491.3,217.3 1491.3,209.7 1496.7,204.3 1504.3,204.3 1509.7,209.7" fill="none" stroke="#000" stroke-width="1.4" stroke-linejoin="round"/>
<polygon points="1521.2,214.2 1515.8,219.6 1508.2,219.6 1502.8,214.2 1502.8,206.6 1508.2,201.2 1515.8,201.2 1521.2,206.6" fill="none" stroke="#000" stroke-width="1.4" stroke-linejoin="round"/>
<polygon points="1532.0,206.2 1526.6,211.6 1519.0,211.6 1513.6,206.2 1513.6,198.6 1519.0,193.2 1526.6,193.2 1532.0,198.6" fill="none" stroke="#000" stroke-width="1.4" stroke-linejoin="round"/>
<polygon points="1538.4,203.3 1533.0,208.7 1525.4,208.7 1520.0,203.3 1520.0,195.7 1525.4,190.3 1533.0,190.3 1538.4,195.7" fill="none" stroke="#000" stroke-width="1.4" stroke-linejoin="round"/>
<polygon points="1546.0,198.3 1540.6,203.7 1533.0,203.7 1527.6,198.3 1527.6,190.7 1533.0,185.3 1540.6,185.3 1546.0,190.7" fill="none" stroke="#000" stroke-width="1.4" stroke-linejoin="round"/>
<polygon points="1560.0,189.7 1554.6,195.1 1547.0,195.1 1541.6,189.7 1541.6,182.1 1547.0,176.7 1554.6,176.7 1560.0,182.1" fill="none" stroke="#000" stroke-width="1.4" stroke-linejoin="round"/>
<polygon points="1564.3,187.6 1558.9,193.0 1551.3,193.0 1545.9,187.6 1545.9,180.0 1551.3,174.6 1558.9,174.6 1564.3,180.0" fill="none" stroke="#000" stroke-width="1.4" stroke-linejoin="round"/>
<polygon points="1574.0,182.2 1568.6,187.6 1561.0,187.6 1555.6,182.2 1555.6,174.6 1561.0,169.2 1568.6,169.2 1574.0,174.6" fill="none" stroke="#000" stroke-width="1.4" stroke-linejoin="round"/>
<polygon points="1579.4,180.0 1574.0,185.4 1566.4,185.4 1561.0,180.0 1561.0,172.4 1566.4,167.0 1574.0,167.0 1579.4,172.4" fill="none" stroke="#000" stroke-width="1.4" stroke-linejoin="round"/>
<polygon points="1593.4,172.5 1588.0,177.9 1580.4,177.9 1575.0,172.5 1575.0,164.9 1580.4,159.5 1588.0,159.5 1593.4,164.9" fill="none" stroke="#000" stroke-width="1.4" stroke-linejoin="round"/>
<polygon points="1603.1,166.0 1597.7,171.4 1590.1,171.4 1584.7,166.0 1584.7,158.4 1590.1,153.0 1597.7,153.0 1603.1,158.4" fill="none" stroke="#000" stroke-width="1.4" stroke-linejoin="round"/>
<polygon points="1615.0,160.6 1609.6,166.0 1602.0,166.0 1596.6,160.6 1596.6,153.0 1602.0,147.6 1609.6,147.6 1615.0,153.0" fill="none" stroke="#000" stroke-width="1.4" stroke-linejoin="round"/>
<polygon points="1632.2,150.9 1626.8,156.3 1619.2,156.3 1613.8,150.9 1613.8,143.3 1619.2,137.9 1626.8,137.9 1632.2,143.3" fill="none" stroke="#000" stroke-width="1.4" stroke-linejoin="round"/>
<polygon points="1643.4,143.4 1638.0,148.8 1630.4,148.8 1625.0,143.4 1625.0,135.8 1630.4,130.4 1638.0,130.4 1643.4,135.8" fill="none" stroke="#000" stroke-width="1.4" stroke-linejoin="round"/>
<rect x="1379.6" y="364.5" width="256.0" height="223.10000000000002" fill="#fff" stroke="none"/>
<clipPath id="clipIB"><rect x="1379.6" y="364.5" width="256.0" height="223.10000000000002"/></clipPath>
<clipPath id="clipIBx"><rect x="1371.6" y="364.5" width="264.0" height="231.10000000000002"/></clipPath>
<path d="M1379.9 587.2L1382.8 586.9L1385.7 586.6L1388.6 586.2L1391.5 585.8L1394.4 585.2L1397.3 584.6L1400.2 583.9L1403.1 583.2L1406.0 582.3L1408.9 581.4L1411.8 580.4L1414.7 579.4L1417.6 578.2L1420.5 577.0L1423.4 575.7L1426.3 574.4L1429.2 573.0L1432.1 571.5L1435.0 569.9L1437.9 568.2L1440.8 566.5L1443.7 564.7L1446.7 562.8L1449.6 560.9L1452.5 558.9L1455.4 556.8L1458.3 554.6L1461.2 552.4L1464.1 550.1L1467.0 547.7L1469.9 545.2L1472.8 542.7L1475.7 540.1L1478.6 537.4L1481.5 534.7L1484.4 531.9L1487.3 529.0L1490.2 526.0L1493.1 523.0L1496.0 519.9L1498.9 516.7L1501.8 513.4L1504.7 510.1L1507.6 506.7L1510.5 503.2L1513.4 499.7L1516.3 496.1L1519.3 492.4L1522.2 488.6L1525.1 484.8L1528.0 480.9L1530.9 476.9L1533.8 472.9L1536.7 468.7L1539.6 464.6L1542.5 460.3L1545.4 455.9L1548.3 451.5L1551.2 447.1L1554.1 442.5L1557.0 437.9L1559.9 433.2L1562.8 428.4L1565.7 423.6L1568.6 418.7L1571.5 413.7L1574.4 408.6L1577.3 403.5L1580.2 398.3L1583.1 393.0L1586.0 387.7L1588.9 382.2L1591.9 376.8L1594.8 371.2L1597.7 365.6L1600.6 359.9L1603.5 354.1L1606.4 348.2L1609.3 342.3L1612.2 336.3L1615.1 330.3L1618.0 324.1L1620.9 317.9L1623.8 311.7L1626.7 305.3L1629.6 298.9L1632.5 292.4L1635.4 285.8L1638.3 279.2" fill="none" stroke="#ff0000" stroke-width="2.3" stroke-dasharray="12 5.5" clip-path="url(#clipIB)"/>
<rect x="1379.6" y="364.5" width="256.0" height="223.10000000000002" fill="none" stroke="#858585" stroke-width="1.8"/>
<path d="M1445.2 587.6v-2.6M1445.2 364.5v2.6M1517.8 587.6v-2.6M1517.8 364.5v2.6M1590.4 587.6v-2.6M1590.4 364.5v2.6M1379.6 587.0h3M1635.6 587.0h-3M1379.6 514.6h3M1635.6 514.6h-3M1379.6 445.0h3M1635.6 445.0h-3M1379.6 372.2h3M1635.6 372.2h-3" stroke="#444" stroke-width="1" fill="none"/>
<text x="1445.9" y="610.8" font-size="22" text-anchor="middle" textLength="24.0" lengthAdjust="spacingAndGlyphs">50</text>
<text x="1518.5" y="610.8" font-size="22" text-anchor="middle" textLength="36.0" lengthAdjust="spacingAndGlyphs">100</text>
<text x="1591.1" y="610.8" font-size="22" text-anchor="middle" textLength="36.0" lengthAdjust="spacingAndGlyphs">150</text>
<text x="1376.0" y="594.0" font-size="22" text-anchor="end" textLength="11.3" lengthAdjust="spacingAndGlyphs">0</text>
<text x="1376.0" y="521.6" font-size="22" text-anchor="end" textLength="45.2" lengthAdjust="spacingAndGlyphs">2000</text>
<text x="1376.0" y="452.0" font-size="22" text-anchor="end" textLength="45.2" lengthAdjust="spacingAndGlyphs">4000</text>
<text x="1376.0" y="379.2" font-size="22" text-anchor="end" textLength="45.2" lengthAdjust="spacingAndGlyphs">6000</text>
<path d="M1375.3 591.4h9.2M1375.3 583.0h9.2M1377.1 591.2h9.2M1377.1 582.8h9.2M1377.2 591.3h9.2M1377.2 582.9h9.2M1379.0 591.1h9.2M1379.0 582.7h9.2M1379.0 591.0h9.2M1379.0 582.6h9.2M1380.9 590.8h9.2M1380.9 582.4h9.2M1382.2 590.7h9.2M1382.2 582.3h9.2M1382.8 590.6h9.2M1382.8 582.2h9.2M1384.1 590.1h9.2M1384.1 581.7h9.2M1384.7 590.3h9.2M1384.7 581.9h9.2M1386.4 589.9h9.2M1386.4 581.5h9.2M1386.6 590.0h9.2M1386.6 581.6h9.2M1388.5 589.7h9.2M1388.5 581.3h9.2M1390.4 589.3h9.2M1390.4 580.9h9.2M1390.8 590.0h9.2M1390.8 581.6h9.2M1391.7 590.5h9.2M1391.7 582.1h9.2M1392.2 588.9h9.2M1392.2 580.5h9.2M1394.1 588.5h9.2M1394.1 580.1h9.2M1394.2 589.8h9.2M1394.2 581.4h9.2M1395.5 590.6h9.2M1395.5 582.2h9.2M1396.0 588.0h9.2M1396.0 579.6h9.2M1397.6 589.0h9.2M1397.6 580.6h9.2M1397.9 587.5h9.2M1397.9 579.1h9.2M1399.6 587.1h9.2M1399.6 578.7h9.2M1399.8 587.0h9.2M1399.8 578.6h9.2M1401.7 586.4h9.2M1401.7 578.0h9.2M1402.1 586.9h9.2M1402.1 578.5h9.2M1402.9 586.4h9.2M1402.9 578.0h9.2M1403.6 585.8h9.2M1403.6 577.4h9.2M1405.3 585.7h9.2M1405.3 577.3h9.2M1405.5 585.2h9.2M1405.5 576.8h9.2M1407.3 584.6h9.2M1407.3 576.2h9.2M1408.6 587.5h9.2M1408.6 579.1h9.2M1409.2 583.9h9.2M1409.2 575.5h9.2M1411.1 583.2h9.2M1411.1 574.8h9.2M1412.1 583.2h9.2M1412.1 574.8h9.2M1413.0 582.4h9.2M1413.0 574.0h9.2M1416.5 581.0h9.2M1416.5 572.6h9.2M1421.7 578.8h9.2M1421.7 570.4h9.2M1430.9 575.0h9.2M1430.9 566.6h9.2M1435.8 570.8h9.2M1435.8 562.4h9.2M1441.0 568.9h9.2M1441.0 560.5h9.2M1445.5 566.3h9.2M1445.5 557.9h9.2M1451.6 563.6h9.2M1451.6 555.2h9.2M1457.3 556.5h9.2M1457.3 548.1h9.2M1461.4 551.7h9.2M1461.4 543.3h9.2M1464.3 549.2h9.2M1464.3 540.8h9.2M1469.0 543.2h9.2M1469.0 534.8h9.2M1475.2 540.4h9.2M1475.2 532.0h9.2M1481.3 532.6h9.2M1481.3 524.2h9.2M1484.7 529.1h9.2M1484.7 520.7h9.2M1490.8 523.0h9.2M1490.8 514.6h9.2M1495.1 517.0h9.2M1495.1 508.6h9.2M1499.4 512.7h9.2M1499.4 504.3h9.2M1503.0 508.3h9.2M1503.0 499.9h9.2M1510.4 501.0h9.2M1510.4 492.6h9.2" stroke="#000" stroke-width="1" fill="none" clip-path="url(#clipIBx)"/>
<circle cx="1379.9" cy="587.2" r="4.9" fill="#00ff00" stroke="#000" stroke-width="0.9"/>
<circle cx="1381.7" cy="587.0" r="4.9" fill="#00ff00" stroke="#000" stroke-width="0.9"/>
<circle cx="1381.8" cy="587.1" r="4.9" fill="#00ff00" stroke="#000" stroke-width="0.9"/>
<circle cx="1383.6" cy="586.9" r="4.9" fill="#00ff00" stroke="#000" stroke-width="0.9"/>
<circle cx="1383.6" cy="586.8" r="4.9" fill="#00ff00" stroke="#000" stroke-width="0.9"/>
<circle cx="1385.5" cy="586.6" r="4.9" fill="#00ff00" stroke="#000" stroke-width="0.9"/>
<circle cx="1386.8" cy="586.5" r="4.9" fill="#00ff00" stroke="#000" stroke-width="0.9"/>
<circle cx="1387.4" cy="586.4" r="4.9" fill="#00ff00" stroke="#000" stroke-width="0.9"/>
<circle cx="1388.7" cy="585.9" r="4.9" fill="#00ff00" stroke="#000" stroke-width="0.9"/>
<circle cx="1389.3" cy="586.1" r="4.9" fill="#00ff00" stroke="#000" stroke-width="0.9"/>
<circle cx="1391.0" cy="585.7" r="4.9" fill="#00ff00" stroke="#000" stroke-width="0.9"/>
<circle cx="1391.2" cy="585.8" r="4.9" fill="#00ff00" stroke="#000" stroke-width="0.9"/>
<circle cx="1393.1" cy="585.5" r="4.9" fill="#00ff00" stroke="#000" stroke-width="0.9"/>
<circle cx="1395.0" cy="585.1" r="4.9" fill="#00ff00" stroke="#000" stroke-width="0.9"/>
<circle cx="1395.4" cy="585.8" r="4.9" fill="#00ff00" stroke="#000" stroke-width="0.9"/>
<circle cx="1396.3" cy="586.3" r="4.9" fill="#00ff00" stroke="#000" stroke-width="0.9"/>
<circle cx="1396.8" cy="584.7" r="4.9" fill="#00ff00" stroke="#000" stroke-width="0.9"/>
<circle cx="1398.7" cy="584.3" r="4.9" fill="#00ff00" stroke="#000" stroke-width="0.9"/>
<circle cx="1398.8" cy="585.6" r="4.9" fill="#00ff00" stroke="#000" stroke-width="0.9"/>
<circle cx="1400.1" cy="586.4" r="4.9" fill="#00ff00" stroke="#000" stroke-width="0.9"/>
<circle cx="1400.6" cy="583.8" r="4.9" fill="#00ff00" stroke="#000" stroke-width="0.9"/>
<circle cx="1402.2" cy="584.8" r="4.9" fill="#00ff00" stroke="#000" stroke-width="0.9"/>
<circle cx="1402.5" cy="583.3" r="4.9" fill="#00ff00" stroke="#000" stroke-width="0.9"/>
<circle cx="1404.2" cy="582.9" r="4.9" fill="#00ff00" stroke="#000" stroke-width="0.9"/>
<circle cx="1404.4" cy="582.8" r="4.9" fill="#00ff00" stroke="#000" stroke-width="0.9"/>
<circle cx="1406.3" cy="582.2" r="4.9" fill="#00ff00" stroke="#000" stroke-width="0.9"/>
<circle cx="1406.7" cy="582.7" r="4.9" fill="#00ff00" stroke="#000" stroke-width="0.9"/>
<circle cx="1407.5" cy="582.2" r="4.9" fill="#00ff00" stroke="#000" stroke-width="0.9"/>
<circle cx="1408.2" cy="581.6" r="4.9" fill="#00ff00" stroke="#000" stroke-width="0.9"/>
<circle cx="1409.9" cy="581.5" r="4.9" fill="#00ff00" stroke="#000" stroke-width="0.9"/>
<circle cx="1410.1" cy="581.0" r="4.9" fill="#00ff00" stroke="#000" stroke-width="0.9"/>
<circle cx="1411.9" cy="580.4" r="4.9" fill="#00ff00" stroke="#000" stroke-width="0.9"/>
<circle cx="1413.2" cy="583.3" r="4.9" fill="#00ff00" stroke="#000" stroke-width="0.9"/>
<circle cx="1413.8" cy="579.7" r="4.9" fill="#00ff00" stroke="#000" stroke-width="0.9"/>
<circle cx="1415.7" cy="579.0" r="4.9" fill="#00ff00" stroke="#000" stroke-width="0.9"/>
<circle cx="1416.7" cy="579.0" r="4.9" fill="#00ff00" stroke="#000" stroke-width="0.9"/>
<circle cx="1417.6" cy="578.2" r="4.9" fill="#00ff00" stroke="#000" stroke-width="0.9"/>
<circle cx="1421.1" cy="576.8" r="4.9" fill="#00ff00" stroke="#000" stroke-width="0.9"/>
<circle cx="1426.3" cy="574.6" r="4.9" fill="#00ff00" stroke="#000" stroke-width="0.9"/>
<circle cx="1435.5" cy="570.8" r="4.9" fill="#00ff00" stroke="#000" stroke-width="0.9"/>
<circle cx="1440.4" cy="566.6" r="4.9" fill="#00ff00" stroke="#000" stroke-width="0.9"/>
<circle cx="1445.6" cy="564.7" r="4.9" fill="#00ff00" stroke="#000" stroke-width="0.9"/>
<circle cx="1450.1" cy="562.1" r="4.9" fill="#00ff00" stroke="#000" stroke-width="0.9"/>
<circle cx="1456.2" cy="559.4" r="4.9" fill="#00ff00" stroke="#000" stroke-width="0.9"/>
<circle cx="1461.9" cy="552.3" r="4.9" fill="#00ff00" stroke="#000" stroke-width="0.9"/>
<circle cx="1466.0" cy="547.5" r="4.9" fill="#00ff00" stroke="#000" stroke-width="0.9"/>
<circle cx="1468.9" cy="545.0" r="4.9" fill="#00ff00" stroke="#000" stroke-width="0.9"/>
<circle cx="1473.6" cy="539.0" r="4.9" fill="#00ff00" stroke="#000" stroke-width="0.9"/>
<circle cx="1479.8" cy="536.2" r="4.9" fill="#00ff00" stroke="#000" stroke-width="0.9"/>
<circle cx="1485.9" cy="528.4" r="4.9" fill="#00ff00" stroke="#000" stroke-width="0.9"/>
<circle cx="1489.3" cy="524.9" r="4.9" fill="#00ff00" stroke="#000" stroke-width="0.9"/>
<circle cx="1495.4" cy="518.8" r="4.9" fill="#00ff00" stroke="#000" stroke-width="0.9"/>
<circle cx="1499.7" cy="512.8" r="4.9" fill="#00ff00" stroke="#000" stroke-width="0.9"/>
<circle cx="1504.0" cy="508.5" r="4.9" fill="#00ff00" stroke="#000" stroke-width="0.9"/>
<circle cx="1507.6" cy="504.1" r="4.9" fill="#00ff00" stroke="#000" stroke-width="0.9"/>
<circle cx="1515.0" cy="496.8" r="4.9" fill="#00ff00" stroke="#000" stroke-width="0.9"/>
<circle cx="1518.6" cy="493.1" r="4.9" fill="#00ff00" stroke="#000" stroke-width="0.9"/>
<circle cx="1529.6" cy="479.0" r="4.9" fill="#00ff00" stroke="#000" stroke-width="0.9"/>
<circle cx="1537.4" cy="467.5" r="4.9" fill="#00ff00" stroke="#000" stroke-width="0.9"/>
<circle cx="1545.5" cy="455.3" r="4.9" fill="#00ff00" stroke="#000" stroke-width="0.9"/>
<circle cx="1561.9" cy="432.1" r="4.9" fill="#00ff00" stroke="#000" stroke-width="0.9"/>
<circle cx="1572.8" cy="415.0" r="4.9" fill="#00ff00" stroke="#000" stroke-width="0.9"/>
<circle cx="1588.7" cy="387.4" r="4.9" fill="#00ff00" stroke="#000" stroke-width="0.9"/>
<circle cx="1379.9" cy="587.2" r="4.9" fill="none" stroke="#000" stroke-width="0.9"/>
<circle cx="1381.7" cy="587.0" r="4.9" fill="none" stroke="#000" stroke-width="0.9"/>
<circle cx="1381.8" cy="587.1" r="4.9" fill="none" stroke="#000" stroke-width="0.9"/>
<circle cx="1383.6" cy="586.9" r="4.9" fill="none" stroke="#000" stroke-width="0.9"/>
<circle cx="1383.6" cy="586.8" r="4.9" fill="none" stroke="#000" stroke-width="0.9"/>
<circle cx="1385.5" cy="586.6" r="4.9" fill="none" stroke="#000" stroke-width="0.9"/>
<circle cx="1386.8" cy="586.5" r="4.9" fill="none" stroke="#000" stroke-width="0.9"/>
<circle cx="1387.4" cy="586.4" r="4.9" fill="none" stroke="#000" stroke-width="0.9"/>
<circle cx="1388.7" cy="585.9" r="4.9" fill="none" stroke="#000" stroke-width="0.9"/>
<circle cx="1389.3" cy="586.1" r="4.9" fill="none" stroke="#000" stroke-width="0.9"/>
<circle cx="1391.0" cy="585.7" r="4.9" fill="none" stroke="#000" stroke-width="0.9"/>
<circle cx="1391.2" cy="585.8" r="4.9" fill="none" stroke="#000" stroke-width="0.9"/>
<circle cx="1393.1" cy="585.5" r="4.9" fill="none" stroke="#000" stroke-width="0.9"/>
<circle cx="1395.0" cy="585.1" r="4.9" fill="none" stroke="#000" stroke-width="0.9"/>
<circle cx="1395.4" cy="585.8" r="4.9" fill="none" stroke="#000" stroke-width="0.9"/>
<circle cx="1396.3" cy="586.3" r="4.9" fill="none" stroke="#000" stroke-width="0.9"/>
<circle cx="1396.8" cy="584.7" r="4.9" fill="none" stroke="#000" stroke-width="0.9"/>
<circle cx="1398.7" cy="584.3" r="4.9" fill="none" stroke="#000" stroke-width="0.9"/>
<circle cx="1398.8" cy="585.6" r="4.9" fill="none" stroke="#000" stroke-width="0.9"/>
<circle cx="1400.1" cy="586.4" r="4.9" fill="none" stroke="#000" stroke-width="0.9"/>
<circle cx="1400.6" cy="583.8" r="4.9" fill="none" stroke="#000" stroke-width="0.9"/>
<circle cx="1402.2" cy="584.8" r="4.9" fill="none" stroke="#000" stroke-width="0.9"/>
<circle cx="1402.5" cy="583.3" r="4.9" fill="none" stroke="#000" stroke-width="0.9"/>
<circle cx="1404.2" cy="582.9" r="4.9" fill="none" stroke="#000" stroke-width="0.9"/>
<circle cx="1404.4" cy="582.8" r="4.9" fill="none" stroke="#000" stroke-width="0.9"/>
<circle cx="1406.3" cy="582.2" r="4.9" fill="none" stroke="#000" stroke-width="0.9"/>
<circle cx="1406.7" cy="582.7" r="4.9" fill="none" stroke="#000" stroke-width="0.9"/>
<circle cx="1407.5" cy="582.2" r="4.9" fill="none" stroke="#000" stroke-width="0.9"/>
<circle cx="1408.2" cy="581.6" r="4.9" fill="none" stroke="#000" stroke-width="0.9"/>
<circle cx="1409.9" cy="581.5" r="4.9" fill="none" stroke="#000" stroke-width="0.9"/>
<circle cx="1410.1" cy="581.0" r="4.9" fill="none" stroke="#000" stroke-width="0.9"/>
<circle cx="1411.9" cy="580.4" r="4.9" fill="none" stroke="#000" stroke-width="0.9"/>
<circle cx="1413.2" cy="583.3" r="4.9" fill="none" stroke="#000" stroke-width="0.9"/>
<circle cx="1413.8" cy="579.7" r="4.9" fill="none" stroke="#000" stroke-width="0.9"/>
<circle cx="1415.7" cy="579.0" r="4.9" fill="none" stroke="#000" stroke-width="0.9"/>
<circle cx="1416.7" cy="579.0" r="4.9" fill="none" stroke="#000" stroke-width="0.9"/>
<circle cx="1417.6" cy="578.2" r="4.9" fill="none" stroke="#000" stroke-width="0.9"/>
<circle cx="1421.1" cy="576.8" r="4.9" fill="none" stroke="#000" stroke-width="0.9"/>
<circle cx="1426.3" cy="574.6" r="4.9" fill="none" stroke="#000" stroke-width="0.9"/>
<circle cx="1435.5" cy="570.8" r="4.9" fill="none" stroke="#000" stroke-width="0.9"/>
<circle cx="1440.4" cy="566.6" r="4.9" fill="none" stroke="#000" stroke-width="0.9"/>
<circle cx="1445.6" cy="564.7" r="4.9" fill="none" stroke="#000" stroke-width="0.9"/>
<circle cx="1450.1" cy="562.1" r="4.9" fill="none" stroke="#000" stroke-width="0.9"/>
<circle cx="1456.2" cy="559.4" r="4.9" fill="none" stroke="#000" stroke-width="0.9"/>
<circle cx="1461.9" cy="552.3" r="4.9" fill="none" stroke="#000" stroke-width="0.9"/>
<circle cx="1466.0" cy="547.5" r="4.9" fill="none" stroke="#000" stroke-width="0.9"/>
<circle cx="1468.9" cy="545.0" r="4.9" fill="none" stroke="#000" stroke-width="0.9"/>
<circle cx="1473.6" cy="539.0" r="4.9" fill="none" stroke="#000" stroke-width="0.9"/>
<circle cx="1479.8" cy="536.2" r="4.9" fill="none" stroke="#000" stroke-width="0.9"/>
<circle cx="1485.9" cy="528.4" r="4.9" fill="none" stroke="#000" stroke-width="0.9"/>
<circle cx="1489.3" cy="524.9" r="4.9" fill="none" stroke="#000" stroke-width="0.9"/>
<circle cx="1495.4" cy="518.8" r="4.9" fill="none" stroke="#000" stroke-width="0.9"/>
<circle cx="1499.7" cy="512.8" r="4.9" fill="none" stroke="#000" stroke-width="0.9"/>
<circle cx="1504.0" cy="508.5" r="4.9" fill="none" stroke="#000" stroke-width="0.9"/>
<circle cx="1507.6" cy="504.1" r="4.9" fill="none" stroke="#000" stroke-width="0.9"/>
<circle cx="1515.0" cy="496.8" r="4.9" fill="none" stroke="#000" stroke-width="0.9"/>
<circle cx="1518.6" cy="493.1" r="4.9" fill="none" stroke="#000" stroke-width="0.9"/>
<circle cx="1529.6" cy="479.0" r="4.9" fill="none" stroke="#000" stroke-width="0.9"/>
<circle cx="1537.4" cy="467.5" r="4.9" fill="none" stroke="#000" stroke-width="0.9"/>
<circle cx="1545.5" cy="455.3" r="4.9" fill="none" stroke="#000" stroke-width="0.9"/>
<circle cx="1561.9" cy="432.1" r="4.9" fill="none" stroke="#000" stroke-width="0.9"/>
<circle cx="1572.8" cy="415.0" r="4.9" fill="none" stroke="#000" stroke-width="0.9"/>
<circle cx="1588.7" cy="387.4" r="4.9" fill="none" stroke="#000" stroke-width="0.9"/>
<path d="M1636.6 618.3h-8.2M1636.6 579.4h-4.2M1636.6 556.6h-4.2M1636.6 540.5h-4.2M1636.6 527.9h-4.2M1636.6 517.7h-4.2M1636.6 509.0h-4.2M1636.6 501.5h-4.2M1636.6 494.9h-4.2M1636.6 489.0h-8.2M1636.6 450.1h-4.2M1636.6 427.3h-4.2M1636.6 411.2h-4.2M1636.6 398.6h-4.2M1636.6 388.4h-4.2M1636.6 379.7h-4.2M1636.6 372.2h-4.2M1636.6 365.6h-4.2M1636.6 359.7h-8.2M1636.6 320.8h-4.2M1636.6 298.0h-4.2M1636.6 281.9h-4.2M1636.6 269.3h-4.2M1636.6 259.1h-4.2M1636.6 250.4h-4.2M1636.6 242.9h-4.2M1636.6 236.3h-4.2M1636.6 230.4h-8.2M1636.6 191.5h-4.2M1636.6 168.7h-4.2M1636.6 152.6h-4.2M1636.6 140.0h-4.2M1636.6 129.8h-4.2M1636.6 121.1h-4.2M1636.6 113.6h-4.2M1636.6 107.0h-4.2M1636.6 101.1h-8.2M1636.6 62.2h-4.2" stroke="#000" stroke-width="1.4" fill="none"/>
<text x="969.3" y="629.9" font-size="36.4" text-anchor="end" style="stroke-width:0.9px">10</text>
<text x="969.8" y="606.3" font-size="24.5" class="ns">0</text>
<text x="969.3" y="500.6" font-size="36.4" text-anchor="end" style="stroke-width:0.9px">10</text>
<text x="969.8" y="477.0" font-size="24.5" class="ns">1</text>
<text x="969.3" y="371.3" font-size="36.4" text-anchor="end" style="stroke-width:0.9px">10</text>
<text x="969.8" y="347.7" font-size="24.5" class="ns">2</text>
<text x="969.3" y="242.0" font-size="36.4" text-anchor="end" style="stroke-width:0.9px">10</text>
<text x="969.8" y="218.4" font-size="24.5" class="ns">3</text>
<text x="969.3" y="112.7" font-size="36.4" text-anchor="end" style="stroke-width:0.9px">10</text>
<text x="969.8" y="89.1" font-size="24.5" class="ns">4</text>
<text x="1138.0" y="669.5" font-size="36.4" text-anchor="end" style="stroke-width:0.9px">10</text>
<text x="1136.9" y="646.3" font-size="24.5" class="ns">1</text>
<text x="1584.3" y="669.5" font-size="36.4" text-anchor="end" style="stroke-width:0.9px">10</text>
<text x="1583.2" y="646.3" font-size="24.5" class="ns">2</text>
<text x="1274.5" y="686.8" font-size="32.5" textLength="117.5" lengthAdjust="spacingAndGlyphs">P [mW]</text>
<text x="1158" y="131.1" font-size="42" font-weight="bold" font-style="italic" class="ns" style="fill:#2ddc05" textLength="89" lengthAdjust="spacingAndGlyphs">Idler</text>
<text transform="translate(895.6 454.6) rotate(-90)" font-size="34.5" textLength="183" lengthAdjust="spacingAndGlyphs">Counts [Hz]</text>
</g>
</svg></body></html>
